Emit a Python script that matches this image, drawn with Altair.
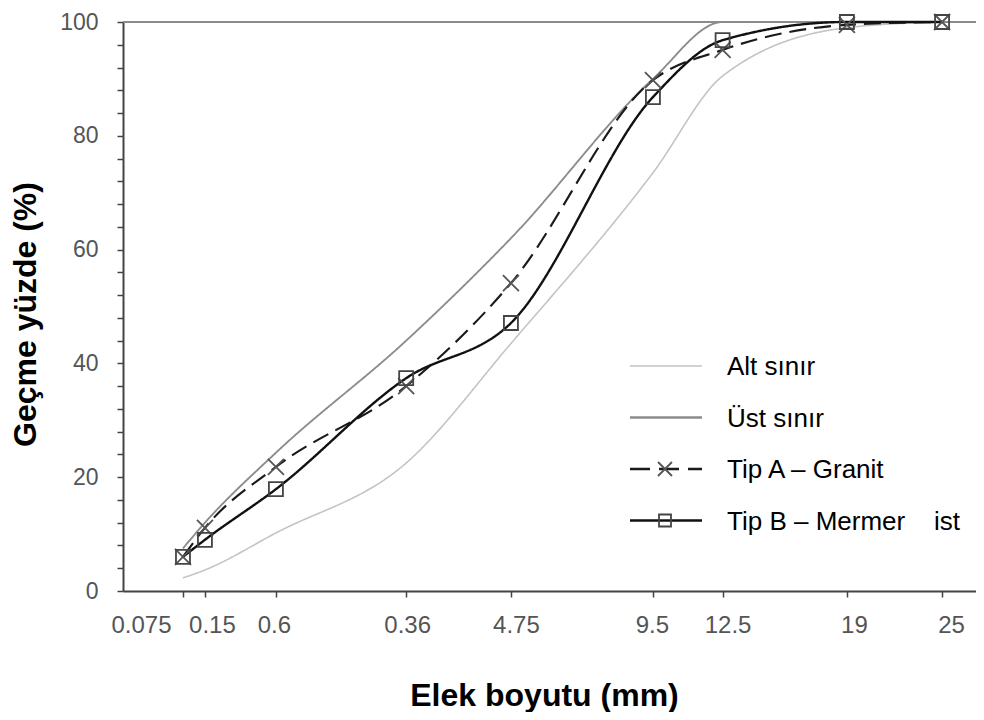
import altair as alt
import pandas as pd

# ---- data ----
sieve = [0.075, 0.15, 0.6, 2.36, 4.75, 9.5, 12.5, 19, 25]
tick_labels = ["0.075", "0.15", "0.6", "0.36", "4.75", "9.5", "12.5", "19", "25"]
alt_sinir = [2.3, 3.7, 10.2, 22.5, 43.5, 73.5, 90.5, 99.0, 100]
ust_sinir = [7.5, 12.0, 24.3, 44.0, 62.0, 90.0, 100, 100, 100]
tip_a = [6.0, 11.1, 21.8, 36.0, 54.1, 89.8, 95.1, 99.5, 100]
tip_b = [6.0, 9.0, 17.9, 37.4, 47.1, 86.8, 96.8, 100, 100]
series_names = ["Alt sınır", "Üst sınır", "Tip A – Granit",
                "Tip B – Mermer\u00a0\u00a0\u00a0\u00a0ist"]
series_values = [alt_sinir, ust_sinir, tip_a, tip_b]

# ---- styles ----
line_colors = ["#c4c4c4", "#8c8c8c", "#1a1a1a", "#111111"]
line_dash = [[1, 0], [1, 0], [17, 8], [1, 0]]
line_width = [1.6, 2.4, 2.6, 2.6]
label_dx = [-42, 7, -2, 1, 5, -1, 5, 7, 9]
FONT = "Liberation Sans"

rows = []
for name, vals in zip(series_names, series_values):
    for s, v in zip(sieve, vals):
        rows.append({"sieve": s, "pct": v, "series": name})
df = pd.DataFrame(rows)

label_expr = "".join(f"datum.value == {s} ? '{l}' : " for s, l in zip(sieve, tick_labels)) + "''"
offset_cond = [{"test": f"datum.value == {s}", "value": d} for s, d in zip(sieve, label_dx) if d != 0]

W, H = 853, 569

x_axis = alt.Axis(values=sieve, labelExpr=label_expr, labelOverlap=False, labelFlush=False,
                  labelBound=False, grid=False, tickSize=6, tickColor="#444", tickWidth=1.5,
                  domainColor="#444", domainWidth=2, labelFont=FONT, labelFontSize=24,
                  labelColor="#555", labelPadding=16,
                  labelOffset={"condition": offset_cond, "value": 0},
                  titleFont=FONT, titleFontSize=32, titleFontWeight="bold", titleColor="#000",
                  titleX=421, titleY=114, titleAlign="center", titleBaseline="alphabetic")
y_axis = alt.Axis(values=list(range(0, 101, 4)), labelExpr="datum.value % 20 == 0 ? datum.label : ''",
                  labelOverlap=False, grid=False, tickSize=6, tickColor="#444", tickWidth=1.5,
                  domainColor="#444", domainWidth=2, labelFont=FONT, labelFontSize=23,
                  labelColor="#555", labelPadding=19,
                  titleFont=FONT, titleFontSize=32, titleFontWeight="bold", titleColor="#000",
                  titleX=-88, titleY=292, titleAngle=270, titleAlign="center",
                  titleBaseline="alphabetic")

x_enc = alt.X("sieve:Q", scale=alt.Scale(type="pow", exponent=0.45, domain=[0, 27.36], nice=False),
              axis=x_axis, title="Elek boyutu (mm)")
y_enc = alt.Y("pct:Q", scale=alt.Scale(domain=[0, 100], nice=False), axis=y_axis,
              title="Geçme yüzde (%)")

top_rule = alt.Chart(pd.DataFrame({"pct": [100]})).mark_rule(color="#8c8c8c", strokeWidth=2).encode(y=y_enc)

lines = alt.Chart(df).mark_line(interpolate="monotone").encode(
    x=x_enc, y=y_enc,
    color=alt.Color("series:N", scale=alt.Scale(domain=series_names, range=line_colors), legend=None),
    strokeDash=alt.StrokeDash("series:N", scale=alt.Scale(domain=series_names, range=line_dash), legend=None),
    strokeWidth=alt.StrokeWidth("series:N", scale=alt.Scale(domain=series_names, range=line_width), legend=None),
    order=alt.Order("sieve:Q"),
)

CROSS = "M-1,-1L1,1M-1,1L1,-1"
pts_a = alt.Chart(df[df.series == series_names[2]]).mark_point(
    shape=CROSS, size=256, filled=False, color="#555", strokeWidth=1.8, opacity=1
).encode(x=x_enc, y=y_enc)
pts_b = alt.Chart(df[df.series == series_names[3]]).mark_point(
    shape="square", size=196, filled=False, color="#444", strokeWidth=1.8, opacity=1
).encode(x=x_enc, y=y_enc)

# ---- manual legend ----
legend_layers = []
for i, name in enumerate(series_names):
    ly = 344 + 51.5 * i
    one = pd.DataFrame({"name": [name]})
    legend_layers.append(
        alt.Chart(one).mark_rule(color=line_colors[i], strokeWidth=line_width[i],
                                 strokeDash=[20, 9] if i == 2 else line_dash[i]).encode(
            x=alt.value(507), x2=alt.value(579), y=alt.value(ly))
    )
    legend_layers.append(
        alt.Chart(one).mark_text(align="left", baseline="alphabetic", font=FONT,
                                 fontSize=26, color="#000").encode(
            x=alt.value(604), y=alt.value(ly + 9), text="name:N")
    )
    if i == 2:
        legend_layers.append(alt.Chart(one).mark_point(shape=CROSS, size=196, filled=False,
                                                       color="#555", strokeWidth=1.8, opacity=1).encode(
            x=alt.value(542), y=alt.value(ly)))
    if i == 3:
        legend_layers.append(alt.Chart(one).mark_point(shape="square", size=144, filled=False,
                                                       color="#444", strokeWidth=1.8, opacity=1).encode(
            x=alt.value(542), y=alt.value(ly)))

chart = alt.layer(top_rule, lines, pts_a, pts_b, *legend_layers).properties(
    width=W, height=H,
    padding={"top": 14, "left": 115, "right": 0, "bottom": 121},
    autosize=alt.AutoSizeParams(type="none"),
    background="white",
).configure_view(strokeWidth=0).configure(font=FONT)

chart.save("out.html", embed_options={"renderer": "svg", "actions": False})
